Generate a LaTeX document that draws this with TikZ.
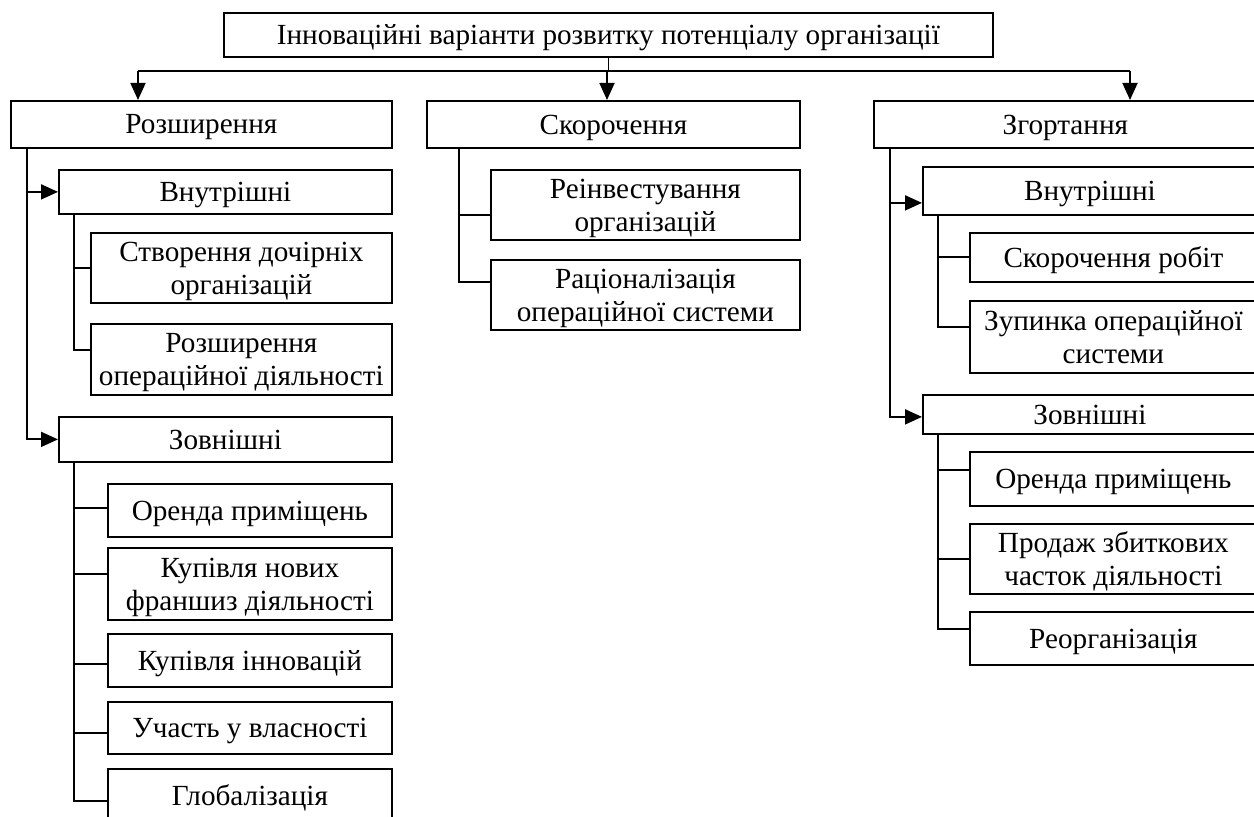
\documentclass[tikz,border=0pt]{standalone}
\usepackage{fontspec}
\setmainfont{Liberation Serif}
\usetikzlibrary{arrows.meta}
\newcommand{\bx}[6]{\node[box, minimum width={(#4-#2)*0.5pt}, minimum height={(#5-#3)*0.5pt}, anchor=north west] (#1) at (#2,#3) {#6};}
\begin{document}
\begin{tikzpicture}[x=0.5pt,y=-0.5pt,
  box/.style={draw, line width=0.9pt, inner sep=1pt, align=center, text depth=0pt, font=\fontsize{14.6}{16.5}\selectfont},
  conn/.style={line width=0.9pt},
  arr/.style={line width=0.9pt, -{Triangle[width=7.5pt,length=8.5pt]}}]
\useasboundingbox (0,0) rectangle (1254,817);
\clip (0,0) rectangle (1254,817);
% top
\bx{top}{223}{12}{992}{56}{Інноваційні варіанти розвитку потенціалу організації}
% level 1
\bx{rozsh}{10}{100}{391}{147}{Розширення}
\bx{skor}{426}{100}{799}{147}{Скорочення}
\bx{zgort}{873}{100}{1256}{147}{Згортання}
% left column
\bx{vn1}{58}{169}{391}{213}{Внутрішні}
\bx{stv}{90}{232}{391}{302}{Створення дочірніх\\організацій}
\bx{rop}{90}{323}{391}{394}{Розширення\\операційної діяльності}
\bx{zv1}{58}{416}{391}{461}{Зовнішні}
\bx{or1}{107}{483}{391}{536}{Оренда приміщень}
\bx{kup}{107}{547}{391}{619}{Купівля нових\\франшиз діяльності}
\bx{kin}{107}{633}{391}{686}{Купівля інновацій}
\bx{uch}{107}{701}{391}{753}{Участь у власності}
\bx{glob}{107}{768}{391}{820}{Глобалізація}
% middle column
\bx{rein}{490}{169}{799}{239}{Реінвестування\\організацій}
\bx{rac}{490}{259}{799}{329}{Раціоналізація\\операційної системи}
% right column
\bx{vn2}{922}{166}{1256}{214}{Внутрішні}
\bx{skr}{969}{232}{1256}{281}{Скорочення робіт}
\bx{zup}{969}{300}{1256}{372}{Зупинка операційної\\системи}
\bx{zv2}{922}{394}{1256}{433}{Зовнішні}
\bx{or2}{969}{451}{1256}{505}{Оренда приміщень}
\bx{prod}{969}{523}{1256}{593}{Продаж збиткових\\часток діяльності}
\bx{reorg}{969}{611}{1256}{664}{Реорганізація}
% bus
\coordinate (bL) at (138,71);
\coordinate (bM) at (607,71);
\coordinate (bR) at (1130,71);
\draw[conn] (top.south) -- (top.south |- bM);
\draw[conn] (bL) -- (bR);
\draw[arr] (bL) -- (bL |- rozsh.north);
\draw[arr] (bM) -- (bM |- skor.north);
\draw[arr] (bR) -- (bR |- zgort.north);
% left
\draw[arr] ([xshift=8.5pt]rozsh.south west) |- (vn1.west);
\draw[arr] ([xshift=8.5pt]rozsh.south west) |- (zv1.west);
\draw[conn] ([xshift=8pt]vn1.south west) |- (stv.west);
\draw[conn] ([xshift=8pt]vn1.south west) |- ([yshift=4.75pt]rop.west);
\draw[conn] ([xshift=8pt]zv1.south west) |- ([yshift=1.25pt]or1.west);
\draw[conn] ([xshift=8pt]zv1.south west) |- ([yshift=5pt]kup.west);
\draw[conn] ([xshift=8pt]zv1.south west) |- ([yshift=-1.75pt]kin.west);
\draw[conn] ([xshift=8pt]zv1.south west) |- ([yshift=-2.5pt]uch.west);
\draw[conn] ([xshift=8pt]zv1.south west) |- ([yshift=-3pt]glob.west);
% middle
\draw[conn] ([xshift=16.5pt]skor.south west) |- ([yshift=-5pt]rein.west);
\draw[conn] ([xshift=16.5pt]skor.south west) |- ([yshift=6.5pt]rac.west);
% right
\draw[arr] ([xshift=8.5pt]zgort.south west) |- ([yshift=-6pt]vn2.west);
\draw[arr] ([xshift=8.5pt]zgort.south west) |- ([yshift=-1.25pt]zv2.west);
\draw[conn] ([xshift=8pt]vn2.south west) |- (skr.west);
\draw[conn] ([xshift=8pt]vn2.south west) |- ([yshift=5pt]zup.west);
\draw[conn] ([xshift=8pt]zv2.south west) |- ([yshift=4.5pt]or2.west);
\draw[conn] ([xshift=8pt]zv2.south west) |- (prod.west);
\draw[conn] ([xshift=8pt]zv2.south west) |- ([yshift=4.75pt]reorg.west);
\end{tikzpicture}
\end{document}
